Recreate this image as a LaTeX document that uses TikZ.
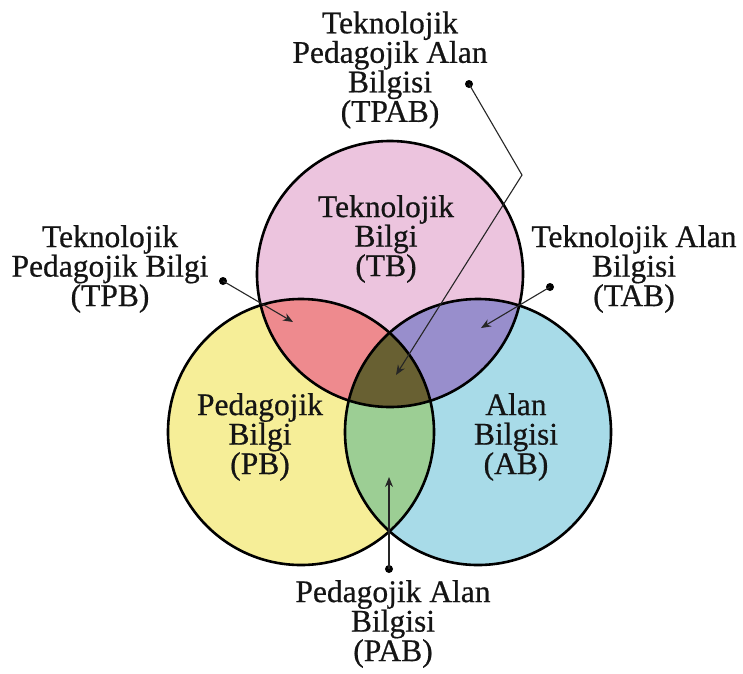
\documentclass[tikz,border=0pt]{standalone}
\usepackage{fontspec}
\setmainfont{Liberation Serif}
\newfontfamily\lblfont[FakeBold=0.6]{Liberation Serif}
\usetikzlibrary{arrows.meta}
\definecolor{pinkc}{RGB}{236,196,222}
\definecolor{yellowc}{RGB}{246,238,152}
\definecolor{bluec}{RGB}{168,219,232}
\definecolor{salmonc}{RGB}{238,138,142}
\definecolor{purplec}{RGB}{152,142,204}
\definecolor{greenc}{RGB}{156,206,148}
\definecolor{olivec}{RGB}{104,96,50}
\definecolor{txt}{RGB}{20,20,20}
\begin{document}
\begin{tikzpicture}[x=1pt,y=-1pt,
  lbl/.style={align=center,font=\lblfont\fontsize{31.5}{29.5}\selectfont,text=txt,inner sep=0pt},
  ring/.style={draw=black,line width=2.6pt},
  pointer/.style={draw=black!85,line width=1.1pt,-{Stealth[length=10pt,width=8pt]}},
  dotc/.style={circle,fill=black,inner sep=0pt,minimum size=8pt}]
\useasboundingbox[fill=white] (0,0) rectangle (743,673);
\coordinate (Tc) at (390,274);
\coordinate (Pc) at (301,432);
\coordinate (Ac) at (478,432);
\def\R{133pt}
% base fills
\fill[pinkc] (Tc) circle[radius=\R];
\fill[yellowc] (Pc) circle[radius=\R];
\fill[bluec] (Ac) circle[radius=\R];
% pairwise overlaps
\begin{scope}
  \clip (Tc) circle[radius=\R];
  \fill[salmonc] (Pc) circle[radius=\R];
  \fill[purplec] (Ac) circle[radius=\R];
\end{scope}
\begin{scope}
  \clip (Pc) circle[radius=\R];
  \fill[greenc] (Ac) circle[radius=\R];
\end{scope}
\begin{scope}
  \clip (Tc) circle[radius=\R];
  \clip (Pc) circle[radius=\R];
  \fill[olivec] (Ac) circle[radius=\R];
\end{scope}
% outlines
\draw[ring] (Tc) circle[radius=\R];
\draw[ring] (Pc) circle[radius=\R];
\draw[ring] (Ac) circle[radius=\R];
% labels inside
\node[lbl] (TB) at (386,239) {Teknolojik\\Bilgi\\(TB)};
\node[lbl] (PB) at (260,437) {Pedagojik\\Bilgi\\(PB)};
\node[lbl] (AB) at (516,437) {Alan\\Bilgisi\\(AB)};
% outside labels
\node[lbl] (TPAB) at (390,70) {Teknolojik\\Pedagojik Alan\\Bilgisi\\(TPAB)};
\node[lbl] (TPB) at (110,269) {Teknolojik\\Pedagojik Bilgi\\(TPB)};
\node[lbl] (TAB) at (634,269) {Teknolojik Alan\\Bilgisi\\(TAB)};
\node[lbl] (PAB) at (393,624) {Pedagojik Alan\\Bilgisi\\(PAB)};
% pointers
\node[dotc] (d1) at (223,281) {};
\coordinate (t1) at (293,322);
\draw[pointer] (d1.center) -- (t1);
\node[dotc] (d2) at (550,287) {};
\coordinate (t2) at (481,328);
\draw[pointer] (d2.center) -- (t2);
\node[dotc] (d3) at (389,569) {};
\coordinate (t3) at (389,477);
\draw[pointer] (d3.center) -- (t3);
\node[dotc] (d4) at (469,84) {};
\coordinate (b4) at (522,175);
\coordinate (t4) at (396,375);
\draw[pointer] (d4.center) -- (b4) -- (t4);
\end{tikzpicture}
\end{document}
